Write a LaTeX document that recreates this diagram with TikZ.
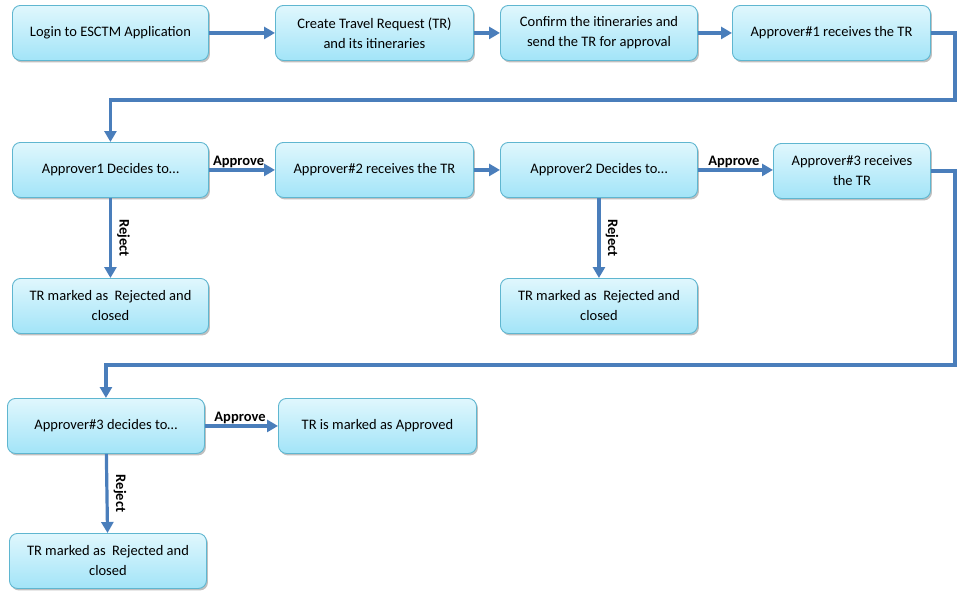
\documentclass[tikz,border=0pt]{standalone}
\usepackage{fontspec}
\setmainfont{Carlito}
\usetikzlibrary{arrows.meta,shadows}
\definecolor{boxtop}{HTML}{E0F7FD}
\definecolor{boxbot}{HTML}{A2E4F8}
\definecolor{boxline}{HTML}{5FB6D0}
\definecolor{arrcol}{HTML}{4A7EBB}
\tikzset{
  box/.style={draw=boxline, line width=0.9pt, rounded corners=8pt,
    top color=boxtop, bottom color=boxbot,
    minimum width=196pt, minimum height=55pt, anchor=north west,
    align=center, font=\fontsize{14.5}{20}\selectfont, inner sep=2pt,
    drop shadow={shadow xshift=1.5pt, shadow yshift=-2pt, opacity=0.25, fill=black}},
  arr/.style={draw=arrcol, line width=3.2pt, -{Triangle[length=11pt,width=12pt]}},
  lbl/.style={font=\bfseries\fontsize{14.5}{16}\selectfont, inner sep=1pt},
}
\begin{document}
\begin{tikzpicture}[x=1pt,y=1pt]
\useasboundingbox (0,0) rectangle (957,-597);
% row 1
\node[box] (B1) at (12,-5) {Login to ESCTM Application};
\node[box, minimum width=198pt] (B2) at (275,-5) {Create Travel Request (TR)\\and its itineraries};
\node[box, minimum width=197pt] (B3) at (500,-5) {Confirm the itineraries and\\send the TR for approval};
\node[box, minimum width=198pt] (B4) at (732,-5) {Approver\#1 receives the TR};
% row 2
\node[box] (C1) at (12,-142) {Approver1 Decides to…};
\node[box, minimum width=198pt] (C2) at (275,-142) {Approver\#2 receives the TR};
\node[box, minimum width=197pt] (C3) at (500,-142) {Approver2 Decides to…};
\node[box, minimum width=157pt] (C4) at (773,-143) {Approver\#3 receives\\the TR};
% row 3
\node[box] (D1) at (12,-278) {TR marked as~~Rejected and\\closed};
\node[box, minimum width=197pt] (D3) at (500,-278) {TR marked as~~Rejected and\\closed};
% row 4
\node[box, minimum width=197pt] (E1) at (7,-398) {Approver\#3 decides to…};
\node[box, minimum width=198pt] (E2) at (278,-398) {TR is marked as Approved};
% row 5
\node[box, minimum width=197pt] (F1) at (9,-533) {TR marked as~~Rejected and\\closed};
% coordinates for bends
\coordinate (r1) at (955,-100);
\coordinate (r2) at (955,-365);
% arrows
\draw[arr] (B1) -- (B2);
\draw[arr] (B2) -- (B3);
\draw[arr] (B3) -- (B4);
\draw[arr] (B4.east) -| (r1) -| (C1.north);
\draw[arr] (C1) -- node[lbl, above, pos=0.45] {Approve} (C2);
\draw[arr] (C2) -- (C3);
\draw[arr] (C3.east) -- node[lbl, above, pos=0.48] {Approve} (C4.west |- C3.east);
\draw[arr] (C4.east) -| (r2) -| (E1.north);
\draw[arr] (C1) -- node[lbl, rotate=-90, anchor=south, pos=0.5, yshift=4pt] {Reject} (D1);
\draw[arr] (C3) -- node[lbl, rotate=-90, anchor=south, pos=0.5, yshift=4pt] {Reject} (D3);
\draw[arr] (E1) -- node[lbl, rotate=-90, anchor=south, pos=0.5, yshift=4pt] {Reject} (F1);
\draw[arr] (E1) -- node[lbl, above, pos=0.48] {Approve} (E2);
\end{tikzpicture}
\end{document}
